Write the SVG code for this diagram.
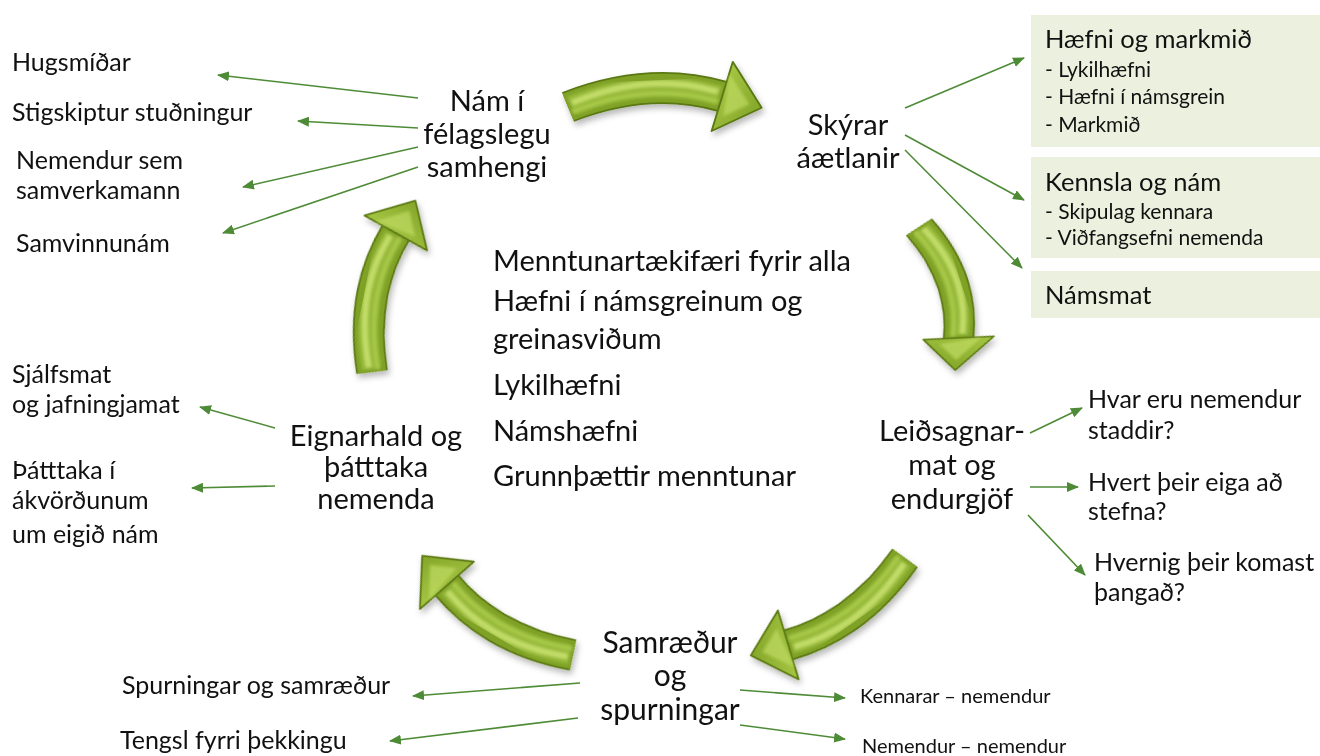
<svg xmlns="http://www.w3.org/2000/svg" width="1320" height="756" viewBox="0 0 1320 756">
<style>
  .t { font-family: Lato, "Open Sans", "Liberation Sans", sans-serif; fill: #111; }
  .node { font-size: 29px; text-anchor: middle; }
  .big { font-size: 30px; }
  .lst { font-size: 25px; }
  .mid { font-size: 29px; }
  .bt { font-size: 25.5px; }
  .bs { font-size: 21px; }
  .sm { font-size: 20px; }
  .box { fill: #EBF1DE; }
  .con { stroke: #4E8B36; stroke-width: 1.6; fill: none; marker-end: url(#ah); }
</style>
<defs>
  <marker id="ah" markerUnits="userSpaceOnUse" markerWidth="12" markerHeight="10" refX="11" refY="5" orient="auto">
    <path d="M0,0 L12,5 L0,10 z" fill="#4E8B36"/>
  </marker>
  <filter id="sh" x="-20%" y="-20%" width="140%" height="150%">
    <feDropShadow dx="2" dy="4" stdDeviation="3" flood-color="#000" flood-opacity="0.28"/>
  </filter>
  <filter id="soft" x="-10%" y="-10%" width="120%" height="120%">
    <feGaussianBlur stdDeviation="1.6"/>
  </filter>
  <linearGradient id="headG" x1="0" y1="0" x2="1" y2="1">
    <stop offset="0" stop-color="#B2D24E"/>
    <stop offset="1" stop-color="#7C9E22"/>
  </linearGradient>
  <g id="bigArrow">
    <path d="M0,0 Q80,-28 150,-4" fill="none" stroke="#5A7812" stroke-width="32"/>
    <path d="M0,0 Q80,-28 150,-4" fill="none" stroke="#7FA126" stroke-width="28.5"/>
    <g filter="url(#soft)">
      <path d="M3,-1 Q80,-29 147,-5" fill="none" stroke="#95B838" stroke-width="20"/>
      <path d="M4,-4 Q80,-33 146,-9" fill="none" stroke="#C2DD68" stroke-width="6"/>
      <path d="M4,5 Q80,-23 146,1" fill="none" stroke="#A9C94A" stroke-width="4"/>
    </g>
    <polygon points="161.7,-38.1 187.8,9.0 138.3,30.1 150,-4" fill="url(#headG)" stroke="#5A7812" stroke-width="1.8" stroke-linejoin="round"/>
    <polygon points="158,-26 176,5 150,16 154,-3" fill="#BFDB62" opacity="0.7" filter="url(#soft)"/>
  </g>
</defs>

<rect width="1320" height="756" fill="#fff"/>

<g id="cycle-arrows" filter="url(#sh)">
  <use href="#bigArrow" transform="translate(568,107) rotate(-2.44) scale(1.03,1)"/>
  <use href="#bigArrow" transform="translate(919,227) rotate(72.3) scale(0.785,1)"/>
  <use href="#bigArrow" transform="translate(905,558) rotate(144.9) scale(0.97,1)"/>
  <use href="#bigArrow" transform="translate(573,655) rotate(210.5) scale(0.96,1)"/>
  <use href="#bigArrow" transform="translate(372,372) rotate(-78.7) scale(0.94,1)"/>
</g>

<g id="connectors">
  <line class="con" x1="418" y1="98" x2="218" y2="75"/>
  <line class="con" x1="418" y1="128" x2="298" y2="121"/>
  <line class="con" x1="418" y1="147" x2="243" y2="187"/>
  <line class="con" x1="418" y1="167" x2="223" y2="233"/>
  <line class="con" x1="905" y1="108" x2="1024" y2="58"/>
  <line class="con" x1="905" y1="135" x2="1024" y2="200"/>
  <line class="con" x1="905" y1="150" x2="1022" y2="268"/>
  <line class="con" x1="1030" y1="433" x2="1082" y2="408"/>
  <line class="con" x1="1030" y1="487" x2="1078" y2="487"/>
  <line class="con" x1="1028" y1="515" x2="1085" y2="575"/>
  <line class="con" x1="275" y1="428" x2="200" y2="407"/>
  <line class="con" x1="275" y1="486" x2="192" y2="488"/>
  <line class="con" x1="580" y1="683" x2="413" y2="696"/>
  <line class="con" x1="578" y1="718" x2="390" y2="741"/>
  <line class="con" x1="740" y1="690" x2="845" y2="698"/>
  <line class="con" x1="740" y1="725" x2="845" y2="739"/>
</g>

<g id="node-nam">
  <text class="t node" x="487" y="111">Nám í</text>
  <text class="t node" x="487" y="144">félagslegu</text>
  <text class="t node" x="487" y="177">samhengi</text>
</g>
<g id="node-skyrar">
  <text class="t node" x="848" y="135">Skýrar</text>
  <text class="t node" x="848" y="168">áætlanir</text>
</g>
<g id="node-leidsagnar">
  <text class="t node" x="952" y="441">Leiðsagnar-</text>
  <text class="t node" x="952" y="475">mat og</text>
  <text class="t node" x="952" y="509">endurgjöf</text>
</g>
<g id="node-samraedur">
  <text class="t node big" x="670" y="653">Samræður</text>
  <text class="t node big" x="670" y="686">og</text>
  <text class="t node big" x="670" y="720">spurningar</text>
</g>
<g id="node-eignarhald">
  <text class="t node" x="376" y="446">Eignarhald og</text>
  <text class="t node" x="376" y="477">þátttaka</text>
  <text class="t node" x="376" y="509">nemenda</text>
</g>

<g id="center-text">
  <text class="t mid" x="493" y="271">Menntunartækifæri fyrir alla</text>
  <text class="t mid" x="493" y="311">Hæfni í námsgreinum og</text>
  <text class="t mid" x="493" y="349">greinasviðum</text>
  <text class="t mid" x="493" y="395">Lykilhæfni</text>
  <text class="t mid" x="493" y="441">Námshæfni</text>
  <text class="t mid" x="493" y="486">Grunnþættir menntunar</text>
</g>

<g id="left-list-top">
  <text class="t lst" x="12" y="71">Hugsmíðar</text>
  <text class="t lst" x="12" y="121">Stigskiptur stuðningur</text>
  <text class="t lst" x="16" y="169">Nemendur sem</text>
  <text class="t lst" x="16" y="199">samverkamann</text>
  <text class="t lst" x="16" y="252">Samvinnunám</text>
</g>

<g id="box-haefni">
  <rect class="box" x="1031" y="15" width="289" height="132"/>
  <text class="t bt" x="1045" y="48">Hæfni og markmið</text>
  <text class="t bs" x="1045" y="77">- Lykilhæfni</text>
  <text class="t bs" x="1045" y="104">- Hæfni í námsgrein</text>
  <text class="t bs" x="1045" y="132">- Markmið</text>
</g>
<g id="box-kennsla">
  <rect class="box" x="1031" y="157" width="289" height="101"/>
  <text class="t bt" x="1045" y="191">Kennsla og nám</text>
  <text class="t bs" x="1045" y="219">- Skipulag kennara</text>
  <text class="t bs" x="1045" y="245">- Viðfangsefni nemenda</text>
</g>
<g id="box-namsmat">
  <rect class="box" x="1031" y="271" width="289" height="47"/>
  <text class="t bt" x="1045" y="304">Námsmat</text>
</g>

<g id="right-list">
  <text class="t lst" x="1088" y="408">Hvar eru nemendur</text>
  <text class="t lst" x="1088" y="439">staddir?</text>
  <text class="t lst" x="1088" y="491">Hvert þeir eiga að</text>
  <text class="t lst" x="1088" y="520">stefna?</text>
  <text class="t lst" x="1094" y="571">Hvernig þeir komast</text>
  <text class="t lst" x="1094" y="601">þangað?</text>
</g>

<g id="left-list-bottom">
  <text class="t lst" x="12" y="383">Sjálfsmat</text>
  <text class="t lst" x="12" y="413">og jafningjamat</text>
  <text class="t lst" x="12" y="479">Þátttaka í</text>
  <text class="t lst" x="12" y="509">ákvörðunum</text>
  <text class="t lst" x="12" y="543">um eigið nám</text>
</g>

<g id="bottom-list">
  <text class="t lst" x="122" y="694">Spurningar og samræður</text>
  <text class="t lst" x="120" y="749">Tengsl fyrri þekkingu</text>
  <text class="t sm" x="860" y="703">Kennarar – nemendur</text>
  <text class="t sm" x="862" y="753">Nemendur – nemendur</text>
</g>
</svg>
